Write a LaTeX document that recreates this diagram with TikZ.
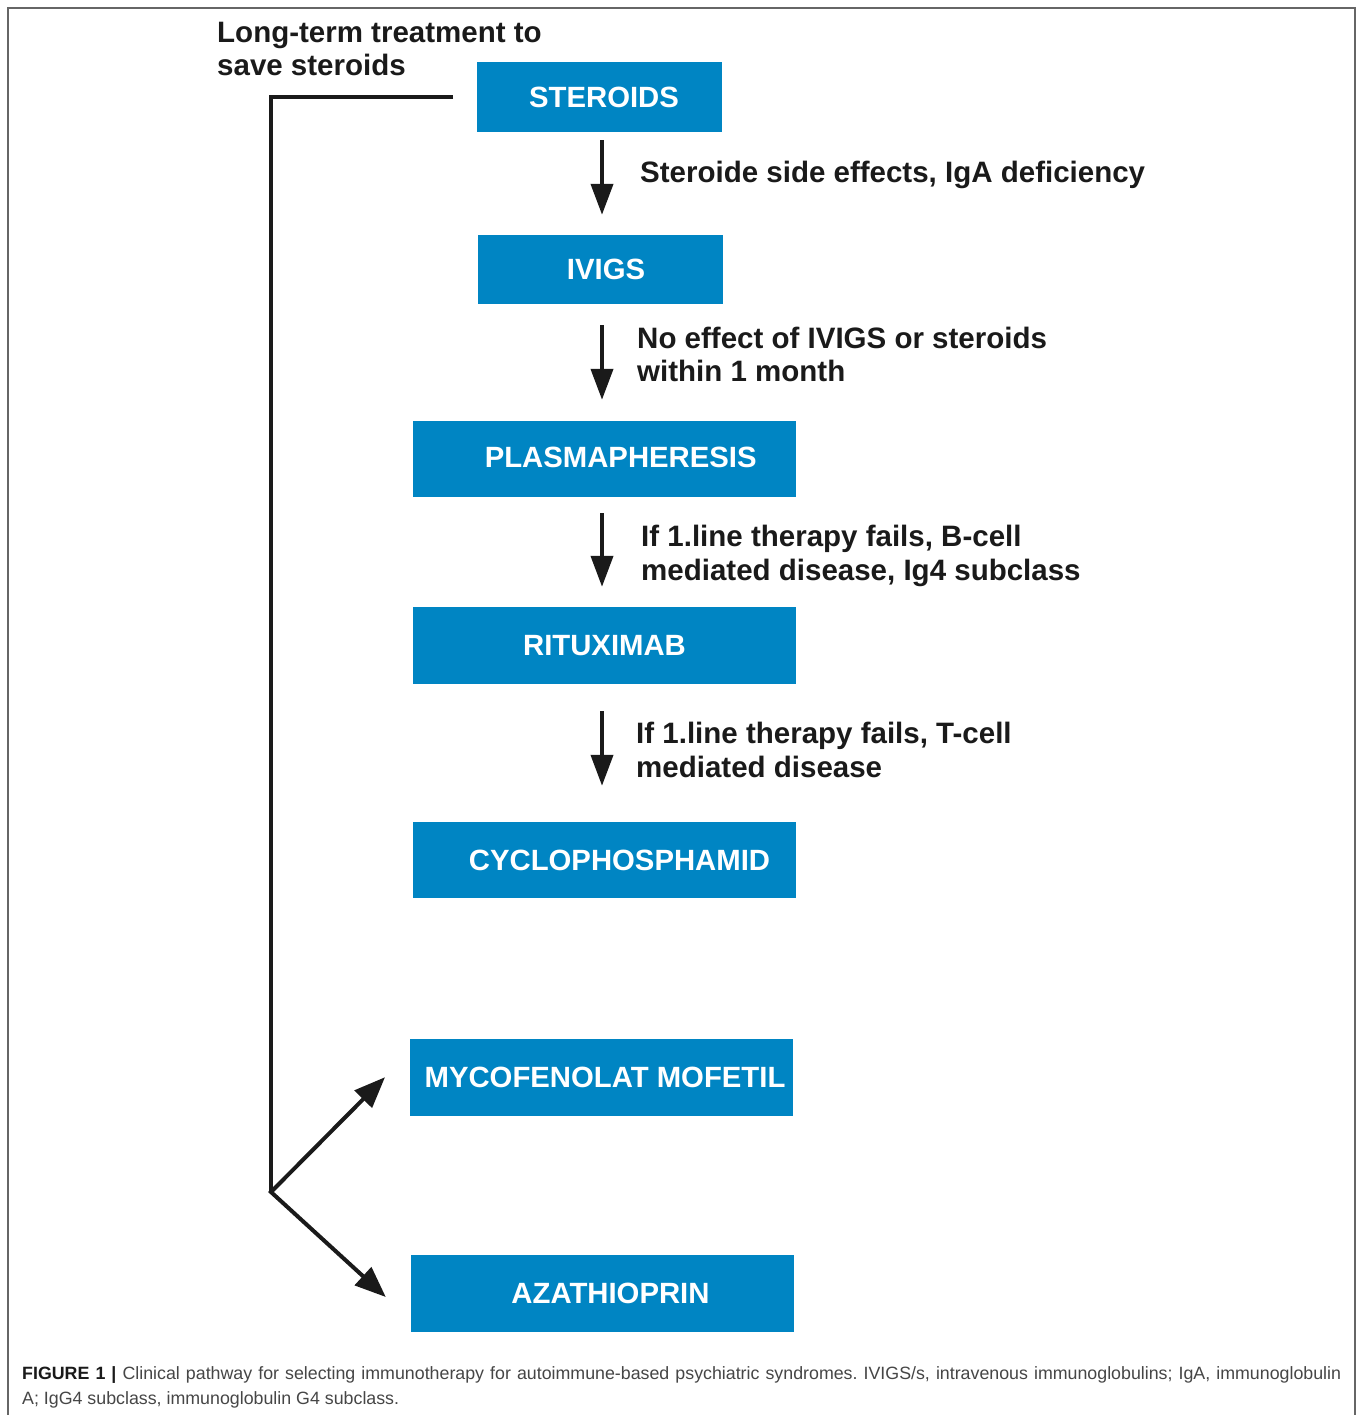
\documentclass[tikz,border=0pt]{standalone}
\usepackage{fontspec}
\setmainfont{Liberation Sans}
\usetikzlibrary{arrows.meta,calc}
\definecolor{boxblue}{RGB}{0,133,195}
\definecolor{ink}{RGB}{26,26,26}
\definecolor{capgray}{RGB}{70,70,70}
\frenchspacing
\begin{document}
\begin{tikzpicture}[x=1pt,y=-1pt,
  box/.style={rectangle, inner sep=0pt, fill=boxblue, text=white,
    minimum width=383pt, minimum height=77pt,
    font=\bfseries\fontsize{29.3}{34}\selectfont},
  lbl/.style={inner sep=0pt, text=ink, align=left,
    font=\bfseries\fontsize{29.5}{33.3}\selectfont},
  conn/.style={draw=ink, line width=4pt},
  varr/.style={conn, -{Triangle[length=31pt,width=22pt]}},
  darr/.style={conn, {Triangle[length=31pt,width=24pt]}-{Triangle[length=31pt,width=24pt]}},
  frame/.style={draw=black!60, line width=1.2pt}]
\useasboundingbox (0,0) rectangle (1358,1415);
\fill[white] (0,0) rectangle (1358,1415);
\draw[frame] (8,1416) -- (8,8) -- (1355,8) -- (1355,1416);

% boxes
\node[box, minimum width=245pt, minimum height=70pt] (steroids) at (599.7,97) {\hspace*{8.6pt}STEROIDS};
\node[box, minimum width=245pt, minimum height=69pt] (ivigs) at (600.5,269.5) {\hspace*{11pt}IVIGS};
\node[box, minimum height=76pt] (plasma) at (604.4,459) {\hspace*{32.6pt}\raisebox{3pt}{PLASMAPHERESIS}};
\node[box] (ritux) at (604.5,645.5) {RITUXIMAB};
\node[box, minimum height=76pt] (cyclo) at (604.5,860) {\hspace*{30pt}CYCLOPHOSPHAMID};
\node[box] (myco) at (601.7,1077.2) {\hspace*{6.6pt}\raisebox{-2pt}{MYCOFENOLAT MOFETIL}};
\node[box] (aza) at (602.5,1293.5) {\hspace*{16pt}\raisebox{-2pt}{AZATHIOPRIN}};

% vertical arrows
\coordinate (ax) at (602,0);
\draw[varr, shorten <=8pt, shorten >=20pt] (steroids.south -| ax) -- (ivigs.north -| ax);
\draw[varr, shorten <=21pt, shorten >=21pt] (ivigs.south -| ax) -- (plasma.north -| ax);
\draw[varr, shorten <=16pt, shorten >=20pt] (plasma.south -| ax) -- (ritux.north -| ax);
\draw[varr, shorten <=27pt, shorten >=36pt] (ritux.south -| ax) -- (cyclo.north -| ax);

% labels (base anchor = baseline of the last line)
\node[lbl, anchor=base west] (l1) at (640,183) {Steroide side effects, IgA deficiency};
\node[lbl, anchor=base west] (l2) at (637,381.5) {No effect of IVIGS or steroids\\within 1 month};
\node[lbl, anchor=base west] (l3) at (641,580) {If 1.line therapy fails, B-cell\\mediated disease, Ig4 subclass};
\node[lbl, anchor=base west] (l4) at (636,777) {If 1.line therapy fails, T-cell\\mediated disease};
\node[lbl, anchor=base west] (lt) at (217,76) {Long-term treatment to\\save steroids};

% long-term connector
\coordinate (j) at (271,1192);
\coordinate (mtip) at ($(myco.west)+(-25,0)$);
\coordinate (atip) at ($(aza.west)+(-25,3.5)$);
\draw[conn] ($(steroids.west)+(-24,0)$) -| (j);
\draw[darr] (mtip) -- (j) -- (atip);

% caption
\node[anchor=base west, inner sep=0pt, text width=1319pt, align=justify, text=capgray,
  font=\fontsize{17.8}{25}\selectfont] (cap) at (22,1379)
  {\textbf{\color{ink}FIGURE 1 |} Clinical pathway for selecting immunotherapy for autoimmune-based psychiatric syndromes. IVIGS/s, intravenous immunoglobulins; IgA, immunoglobulin\linebreak A; IgG4 subclass, immunoglobulin G4 subclass.};
\end{tikzpicture}
\end{document}
